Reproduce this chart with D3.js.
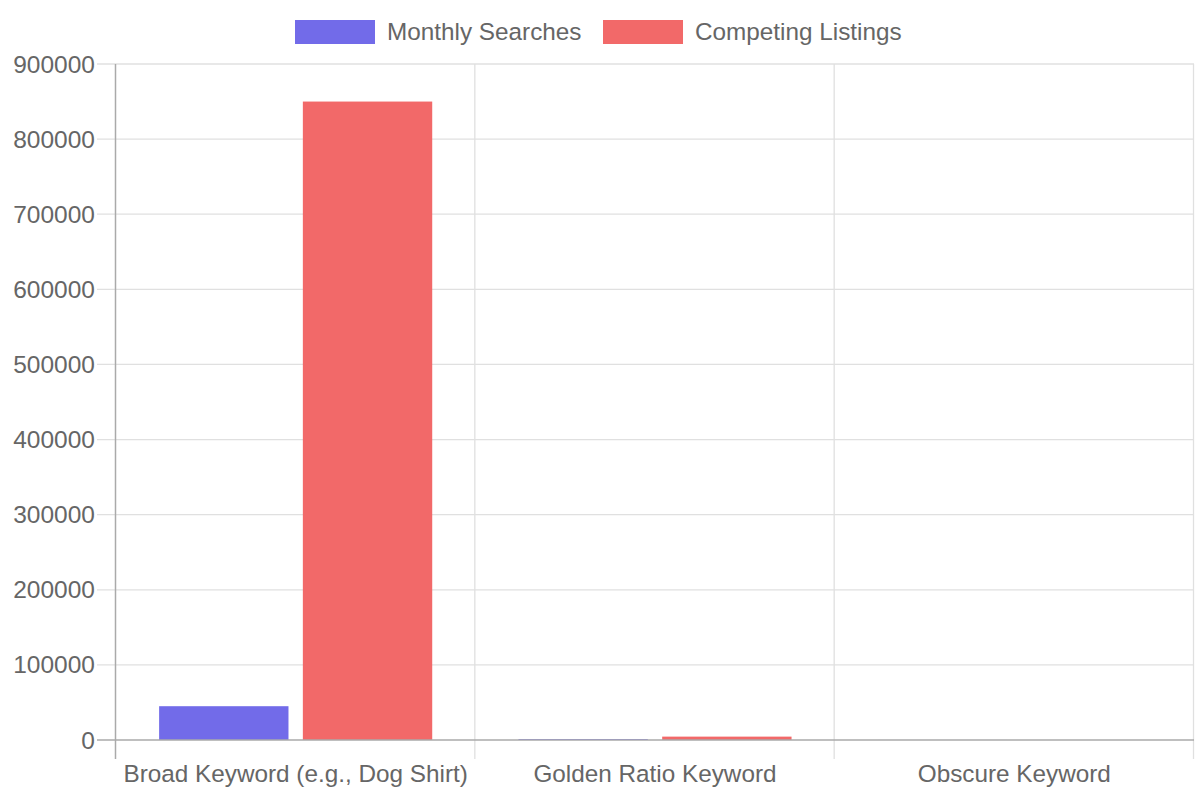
<!DOCTYPE html>
<html>
<head>
<meta charset="utf-8">
<script src="https://cdn.jsdelivr.net/npm/d3@7"></script>
<style>
  body { margin: 0; background: #fff; }
  svg text { font-family: "Liberation Sans", Arial, Helvetica, sans-serif; fill: #666; }
</style>
</head>
<body>
<svg id="chart" width="1200" height="800"></svg>
<script>
// data
var categories = ["Broad Keyword (e.g., Dog Shirt)", "Golden Ratio Keyword", "Obscure Keyword"];
var seriesNames = ["Monthly Searches", "Competing Listings"];
var monthlySearches = [45000, 1200, 50];
var competingListings = [850000, 4500, 20];
var yTicks = [0, 100000, 200000, 300000, 400000, 500000, 600000, 700000, 800000, 900000];

var colors = ["#726be9", "#f26969"];
var series = [monthlySearches, competingListings];

var svg = d3.select("#chart");
var plotL = 116, plotR = 1194, plotT = 64, plotB = 740;

var x = d3.scaleBand().domain(categories).range([plotL, plotR]).padding(0);
var inner = d3.scaleBand().domain(seriesNames)
	.range([0, x.bandwidth()*0.8]).paddingInner(0.1).paddingOuter(0.05);
var y = d3.scaleLinear().domain([0, 900000]).range([plotB, plotT]);

/* grid */
svg.append("g").selectAll("line")
	.data(yTicks.filter(function(d){ return d > 0; }))
	.enter().append("line")
	.attr("x1", plotL - 19).attr("x2", plotR)
	.attr("y1", function(d){ return y(d); })
	.attr("y2", function(d){ return y(d); })
	.style("stroke", "#e0e0e0").style("stroke-width", 1.3);

var bounds = categories.map(function(c){ return x(c); }).concat([plotR]);
svg.append("g").selectAll("line")
	.data(bounds.slice(1))
	.enter().append("line")
	.attr("x1", function(d){ return d - 0.5; }).attr("x2", function(d){ return d - 0.5; })
	.attr("y1", plotT).attr("y2", plotB + 19)
	.style("stroke", "#e0e0e0").style("stroke-width", 1.3);

/* bars */
series.forEach(function(vals, s){
	svg.append("g").selectAll("rect")
		.data(vals)
		.enter().append("rect")
		.attr("x", function(d, i){ return x(categories[i]) + x.bandwidth()*0.1 + inner(seriesNames[s]); })
		.attr("width", inner.bandwidth())
		.attr("y", function(d){ return y(d); })
		.attr("height", function(d){ return plotB - y(d); })
		.style("fill", colors[s]);
});

/* axes */
svg.append("line")
	.attr("x1", plotL - 0.5).attr("x2", plotL - 0.5)
	.attr("y1", plotT).attr("y2", plotB + 19)
	.style("stroke", "#aaa").style("stroke-width", 1.5);
svg.append("line")
	.attr("x1", plotL - 19).attr("x2", plotR)
	.attr("y1", plotB).attr("y2", plotB)
	.style("stroke", "#aaa").style("stroke-width", 1.5);

svg.append("g").selectAll("text")
	.data(yTicks)
	.enter().append("text")
	.attr("x", 95)
	.attr("y", function(d){ return y(d); })
	.attr("dy", "0.35em")
	.attr("text-anchor", "end")
	.style("font-size", "24.5px")
	.text(function(d){ return d; });

svg.append("g").selectAll("text")
	.data(categories)
	.enter().append("text")
	.attr("x", function(d){ return x(d) + x.bandwidth()/2; })
	.attr("y", 773)
	.attr("dy", "0.35em")
	.attr("text-anchor", "middle")
	.style("font-size", "24.3px")
	.text(function(d){ return d; });

/* legend */
var legendX = [295, 603];
var lg = svg.append("g");
seriesNames.forEach(function(name, s){
	lg.append("rect")
		.attr("x", legendX[s]).attr("y", 20)
		.attr("width", 80).attr("height", 24)
		.style("fill", colors[s]);
	lg.append("text")
		.attr("x", legendX[s] + 92).attr("y", 31)
		.attr("dy", "0.35em")
		.style("font-size", "24.3px")
		.text(name);
});
</script>
</body>
</html>
